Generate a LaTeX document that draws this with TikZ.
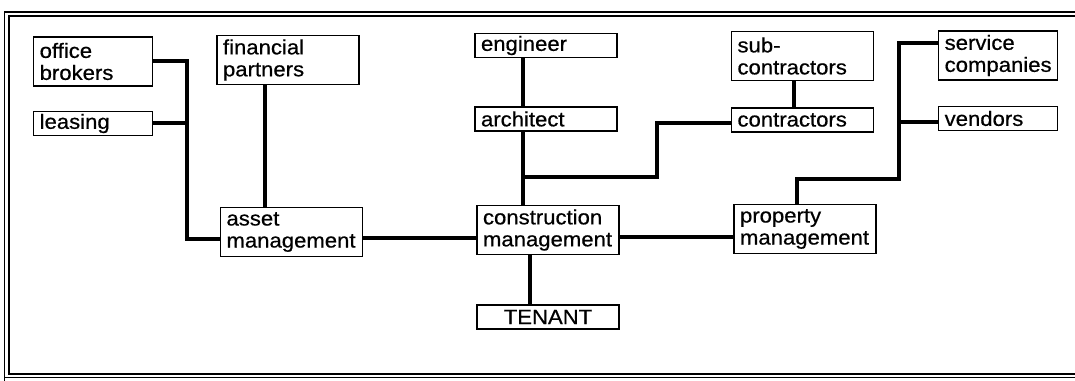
\documentclass[tikz,border=0pt]{standalone}
\usepackage{fontspec}
\setmainfont[FakeStretch=1.07, FakeBold=0.6]{Liberation Sans}
\usepackage{tikz}
\usetikzlibrary{positioning}

\begin{document}
\begin{tikzpicture}[
    x=0.75pt, y=-0.75pt,
    box/.style={draw, line width=1.1pt, inner xsep=4.5pt, inner ysep=1pt,
        align=left, font=\fontsize{15.5}{16.5}\selectfont},
    wide/.style={box, minimum width=106.5pt, text width=97.5pt},
    narrow/.style={box, minimum width=89pt, text width=80pt},
    oneline/.style={minimum height=18pt},
    twoline/.style={minimum height=36.75pt},
    link/.style={line width=3pt},
    frame/.style={line width=1pt},
]
    \useasboundingbox (0,0) rectangle (1075,381);
    % frame
    \draw[frame] (1075,12) -- (4.5,12) -- (4.5,381);
    \draw[frame] (1075,16) -- (9,16) -- (9,374) -- (1075,374);
    \draw[frame] (4.5,377.5) -- (1075,377.5);

    % left group
    \node[narrow, twoline] (ob) at (93,61.5) {office\\brokers};
    \node[narrow, oneline, below=18pt of ob] (ls) {leasing};
    \node[wide, twoline] (fp) at (288,60) {financial\\partners};
    \node[wide, twoline] (am) at (291.5,232) {asset\\management};

    % middle group
    \node[wide, oneline] (en) at (546,45.5) {engineer};
    \node[wide, oneline, below=36pt of en] (ar) {architect};
    \node[wide, twoline] (cm) at (548,230) {construction\\management};
    \node[wide, oneline, below=36.75pt of cm, align=center] (tn) {TENANT};

    % right group
    \node[wide, twoline] (sc) at (802.5,56) {sub-\\contractors};
    \node[wide, oneline, below=19.5pt of sc] (co) {contractors};
    \node[narrow, twoline] (sv) at (998,55.5) {service\\companies};
    \node[narrow, oneline, below=18.75pt of sv] (vn) {vendors};
    \node[wide, twoline] (pm) at (805,229) {property\\management};

    % connectors
    \draw[link] (ob.east) -- ++(34,0) coordinate (lb) |- ([yshift=-5.5pt]am.west);
    \draw[link] (ls.east) -- (ls.east -| lb);
    \coordinate (fpx) at (265,0);
    \draw[link] (fp.south -| fpx) -- (am.north -| fpx);
    \draw[link] ([yshift=-4.5pt]am.east) -- ([yshift=-4.5pt]am.east -| cm.west);
    \coordinate (spine) at (523,0);
    \draw[link] (en.south -| spine) -- (ar.north -| spine);
    \draw[link] (ar.south -| spine) -- (cm.north -| spine);
    \coordinate (jn) at (523,177);
    \draw[link] (jn) -- ++(134,0) |- ([yshift=-2pt]co.west);
    \coordinate (tnx) at (530,0);
    \draw[link] (cm.south -| tnx) -- (tn.north -| tnx);
    \draw[link] ([yshift=-5.5pt]cm.east) -- ([yshift=-5.5pt]cm.east -| pm.west);
    \coordinate (scx) at (794,0);
    \draw[link] (sc.south -| scx) -- (co.north -| scx);
    \coordinate (sb) at (899,43);
    \coordinate (sbend) at (899,179);
    \coordinate (pmx) at (797,0);
    \draw[link] (sv.west |- sb) -- (sb) -- (sbend) -| (pm.north -| pmx);
    \draw[link] ([yshift=-2.5pt]vn.west) -- ([yshift=-2.5pt]vn.west -| sb);
\end{tikzpicture}
\end{document}
